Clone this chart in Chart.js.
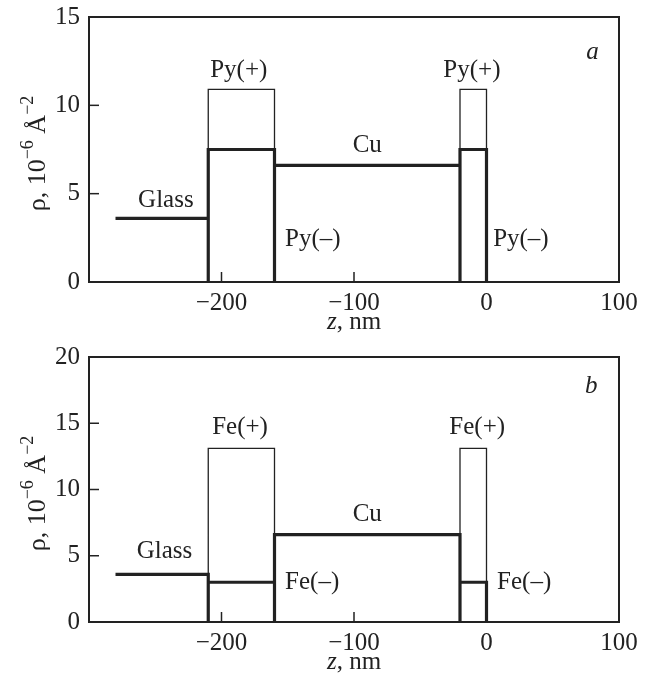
<!DOCTYPE html>
<html>
<head>
<meta charset="utf-8">
<script src="https://cdn.jsdelivr.net/npm/chart.js@4.4.0/dist/chart.umd.min.js"></script>
<style>
  body { margin: 0; background: #fff; }
  .box { position: relative; width: 650px; height: 340px; }
</style>
</head>
<body>
<div class="box"><canvas id="chartA"></canvas></div>
<div class="box"><canvas id="chartB"></canvas></div>
<script>
// depth z (nm) of each step point, shared by both panels
const thinZ  = [-210, -210, -160, -160, -20, -20, 0, 0];
const thickZ = [-280, -210, -210, -210, -160, -160, -160, -20, -20, -20, 0, 0];

// panel a: Py(+) (thin) and Py(-) with glass and Cu (thick)
const pyPlusRho  = [0, 10.9, 10.9, 6.6, 6.6, 10.9, 10.9, 0];
const pyMinusRho = [3.6, 3.6, 0, 7.5, 7.5, 0, 6.6, 6.6, 0, 7.5, 7.5, 0];

// panel b: Fe(+) (thin) and Fe(-) with glass and Cu (thick)
const fePlusRho  = [0, 13.1, 13.1, 6.6, 6.6, 13.1, 13.1, 0];
const feMinusRho = [3.6, 3.6, 0, 3.0, 3.0, 0, 6.6, 6.6, 0, 3.0, 3.0, 0];

const xTicks  = [-200, -100, 0, 100];
const yTicksA = [0, 5, 10, 15];
const yTicksB = [0, 5, 10, 15, 20];

const labelsA = [
  { text: 'Glass', z: -242, rho: 4.6 },
  { text: 'Py(+)', z: -187, rho: 12.0 },
  { text: 'Cu', z: -90, rho: 7.75 },
  { text: 'Py(+)', z: -11, rho: 12.0 },
  { text: 'Py(–)', z: -152, rho: 2.4, align: 'left' },
  { text: 'Py(–)', z: 5, rho: 2.4, align: 'left' },
  { text: 'a', z: 80, rho: 13.0, italic: true }
];
const labelsB = [
  { text: 'Glass', z: -243, rho: 5.3 },
  { text: 'Fe(+)', z: -186, rho: 14.65 },
  { text: 'Cu', z: -90, rho: 8.1 },
  { text: 'Fe(+)', z: -7, rho: 14.65 },
  { text: 'Fe(–)', z: -152, rho: 3.0, align: 'left' },
  { text: 'Fe(–)', z: 8, rho: 3.0, align: 'left' },
  { text: 'b', z: 79, rho: 17.75, italic: true }
];

const FONT = '"Liberation Serif", "Times New Roman", serif';
const INK = '#222';

function pts(xs, ys) {
  return xs.map((v, i) => ({ x: v, y: ys[i] }));
}

// frame, inward ticks, text labels and axis titles
const decor = {
  id: 'decor',
  afterDatasetsDraw(chart, args, opts) {
    const { ctx, chartArea: a, scales: { x, y } } = chart;
    ctx.save();
    ctx.strokeStyle = INK;
    ctx.lineWidth = 2;
    ctx.strokeRect(a.left, a.top, a.width, a.height);

    ctx.lineWidth = 1.5;
    x.ticks.forEach(t => {
      const px = x.getPixelForValue(t.value);
      if (px > a.left + 3 && px < a.right - 3) {
        ctx.beginPath(); ctx.moveTo(px, a.bottom); ctx.lineTo(px, a.bottom - 10); ctx.stroke();
      }
    });
    y.ticks.forEach(t => {
      const py = y.getPixelForValue(t.value);
      if (py > a.top + 3 && py < a.bottom - 3) {
        ctx.beginPath(); ctx.moveTo(a.left, py); ctx.lineTo(a.left + 10, py); ctx.stroke();
      }
    });

    ctx.fillStyle = INK;
    ctx.textBaseline = 'middle';
    opts.items.forEach(it => {
      ctx.font = (it.italic ? 'italic ' : '') + '25px ' + FONT;
      ctx.textAlign = it.align || 'center';
      ctx.fillText(it.text, x.getPixelForValue(it.z), y.getPixelForValue(it.rho));
    });

    // x title: z, nm
    ctx.textAlign = 'left';
    ctx.font = 'italic 25px ' + FONT;
    const wz = ctx.measureText('z').width;
    ctx.font = '25px ' + FONT;
    const wr = ctx.measureText(', nm').width;
    const x0 = x.getPixelForValue(-100) - (wz + wr) / 2;
    ctx.font = 'italic 25px ' + FONT;
    ctx.fillText('z', x0, a.bottom + 40);
    ctx.font = '25px ' + FONT;
    ctx.fillText(', nm', x0 + wz, a.bottom + 40);

    // y title: rho, 10^-6 A^-2
    const parts = [
      { t: 'ρ, 10', sup: false }, { t: '−6', sup: true },
      { t: ' Å', sup: false }, { t: '−2', sup: true }
    ];
    const fontOf = p => (p.sup ? '18px ' : '26px ') + FONT;
    let total = 0;
    parts.forEach(p => { ctx.font = fontOf(p); total += ctx.measureText(p.t).width; });
    ctx.translate(38, (a.top + a.bottom) / 2 + 4);
    ctx.rotate(-Math.PI / 2);
    let cx = -total / 2;
    parts.forEach(p => {
      ctx.font = fontOf(p);
      ctx.fillText(p.t, cx, p.sup ? -10 : 0);
      cx += ctx.measureText(p.t).width;
    });
    ctx.restore();
  }
};

function makeChart(id, plusRho, minusRho, yMax, yTicks, labels) {
  const ctx = document.getElementById(id).getContext('2d');
  return new Chart(ctx, {
    type: 'scatter',
    data: {
      datasets: [
        {
          data: pts(thinZ, plusRho),
          showLine: true, borderColor: INK, borderWidth: 1.3,
          pointRadius: 0, borderJoinStyle: 'miter'
        },
        {
          data: pts(thickZ, minusRho),
          showLine: true, borderColor: INK, borderWidth: 3.2,
          pointRadius: 0, borderJoinStyle: 'miter'
        }
      ]
    },
    options: {
      responsive: true,
      maintainAspectRatio: false,
      animation: false,
      layout: { padding: { top: 17, right: 31, left: 0, bottom: 0 } },
      plugins: {
        legend: { display: false },
        tooltip: { enabled: false },
        decor: { items: labels }
      },
      scales: {
        x: {
          type: 'linear', min: -300, max: 100,
          grid: { display: false, tickLength: 0 }, border: { display: false },
          afterBuildTicks: s => { s.ticks = xTicks.map(v => ({ value: v })); },
          afterFit: s => { s.height = 58; s.paddingLeft = 0; s.paddingRight = 0; },
          ticks: {
            padding: 6, color: INK, font: { family: FONT, size: 25 },
            maxRotation: 0,
            callback: v => String(v).replace('-', '−')
          }
        },
        y: {
          min: 0, max: yMax,
          grid: { display: false, tickLength: 0 }, border: { display: false },
          afterBuildTicks: s => { s.ticks = yTicks.map(v => ({ value: v })); },
          afterFit: s => { s.width = 89; s.paddingTop = 0; s.paddingBottom = 0; },
          ticks: { padding: 9, color: INK, font: { family: FONT, size: 25 } }
        }
      }
    },
    plugins: [decor]
  });
}

makeChart('chartA', pyPlusRho, pyMinusRho, 15, yTicksA, labelsA);
makeChart('chartB', fePlusRho, feMinusRho, 20, yTicksB, labelsB);
</script>
</body>
</html>
